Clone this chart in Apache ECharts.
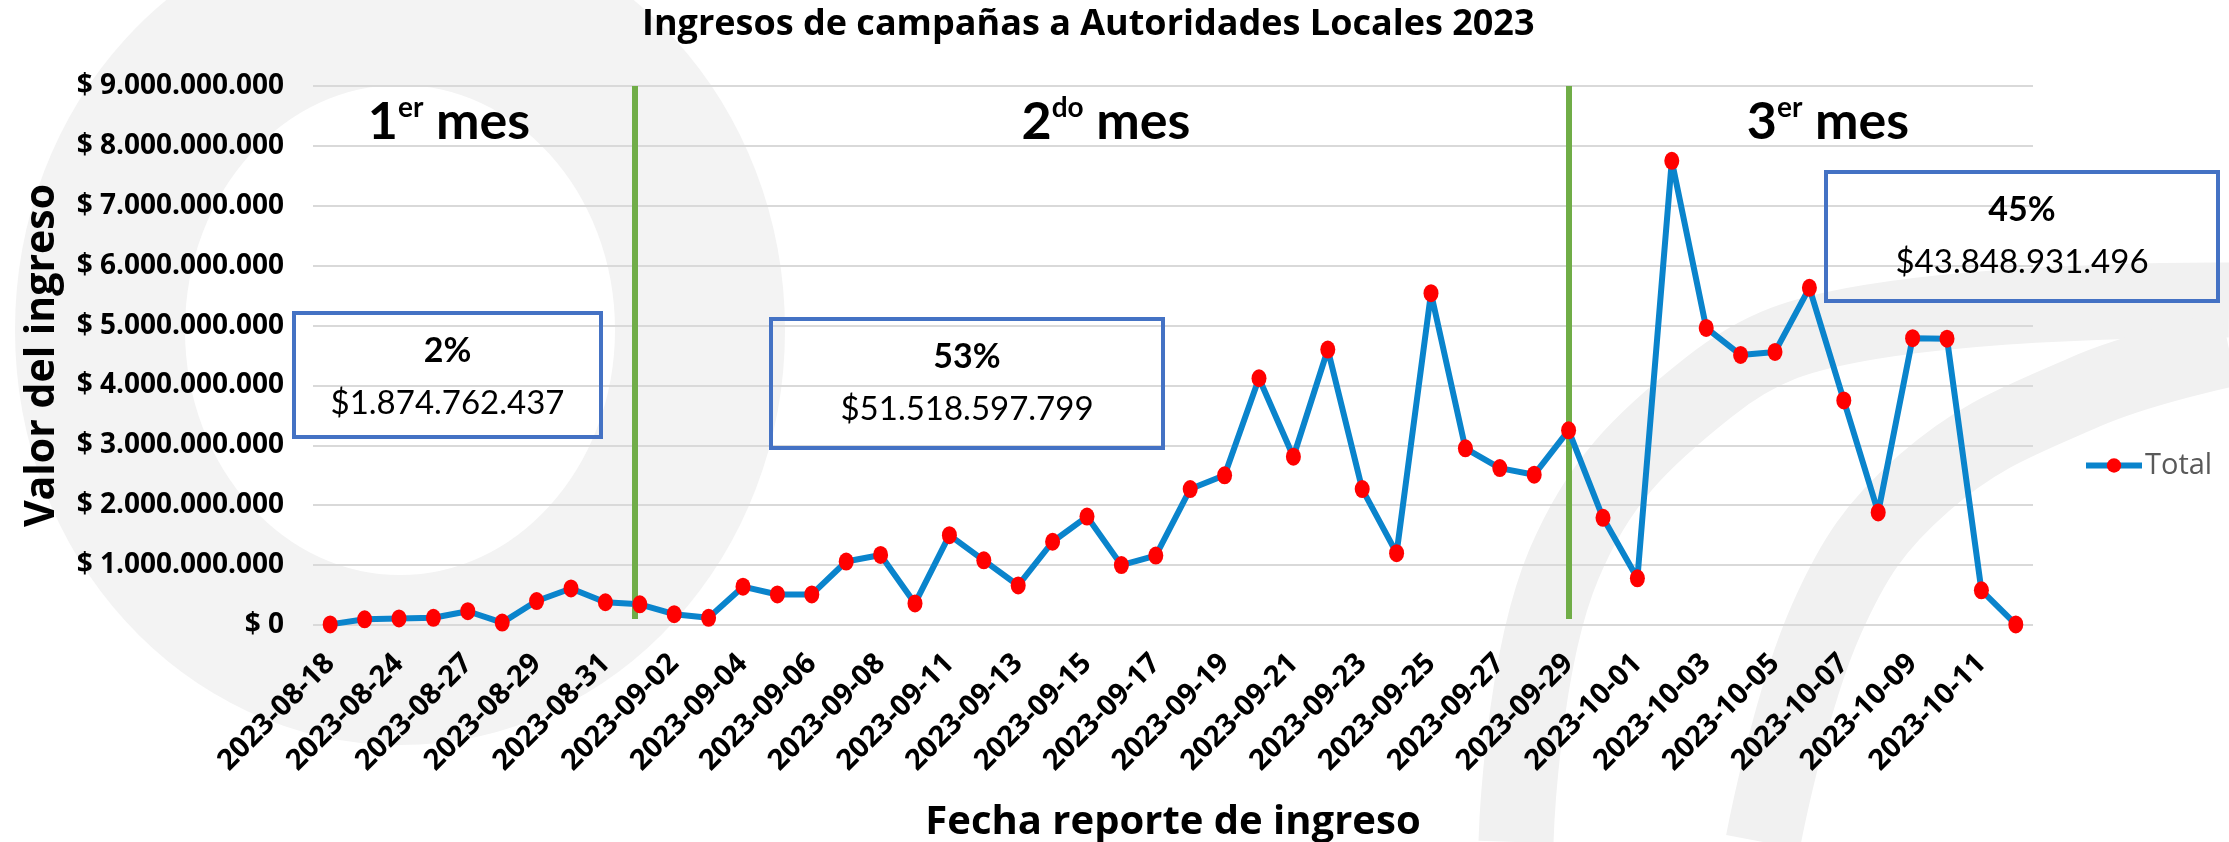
<!DOCTYPE html>
<html>
<head>
<meta charset="utf-8">
<script src="https://cdn.jsdelivr.net/npm/echarts@6/dist/echarts.min.js"></script>
<style>
  html, body { margin: 0; padding: 0; background: #fff; }
  #chart { width: 2229px; height: 842px; }
</style>
</head>
<body>
<div id="chart"></div>
<script>
// fechas de reporte (solo se muestran una de cada dos)
var fechas = [
  '2023-08-18', '2023-08-22', '2023-08-24', '2023-08-25', '2023-08-27', '2023-08-28', '2023-08-29', '2023-08-30', '2023-08-31', '2023-09-01',
  '2023-09-02', '2023-09-03', '2023-09-04', '2023-09-05', '2023-09-06', '2023-09-07', '2023-09-08', '2023-09-10', '2023-09-11', '2023-09-12',
  '2023-09-13', '2023-09-14', '2023-09-15', '2023-09-16', '2023-09-17', '2023-09-18', '2023-09-19', '2023-09-20', '2023-09-21', '2023-09-22',
  '2023-09-23', '2023-09-24', '2023-09-25', '2023-09-26', '2023-09-27', '2023-09-28', '2023-09-29', '2023-09-30', '2023-10-01', '2023-10-02',
  '2023-10-03', '2023-10-04', '2023-10-05', '2023-10-06', '2023-10-07', '2023-10-08', '2023-10-09', '2023-10-10', '2023-10-11', '2023-10-12'
];

// valor del ingreso, en millones de pesos
var totalMillones = [
  10, 95, 110, 120, 230, 40, 400, 610, 380, 345,
  180, 120, 640, 510, 510, 1060, 1170, 360, 1500, 1080,
  660, 1390, 1810, 1000, 1160, 2270, 2500, 4120, 2810, 4600,
  2270, 1200, 5540, 2950, 2620, 2510, 3250, 1790, 780, 7750,
  4960, 4510, 4560, 5630, 3750, 1880, 4790, 4780, 580, 10
];

// cortes entre meses (posicion sobre el eje de categorias)
var cortesMes = [8.86, 36];

var meses = [
  { n: '1', sup: 'er', x: 449 },
  { n: '2', sup: 'do', x: 1106 },
  { n: '3', sup: 'er', x: 1828 }
];

var resumenPct = ['2%', '53%', '45%'];
var resumenValor = ['$1.874.762.437', '$51.518.597.799', '$43.848.931.496'];

function pesos(v) {
  var s = String(Math.round(v)).replace(/\B(?=(\d{3})+(?!\d))/g, '.');
  return '$ ' + s;
}

var chart = echarts.init(document.getElementById('chart'));

var cajas = [
  { x: 294, y: 313, w: 307, h: 124 },
  { x: 771, y: 319, w: 392, h: 129 },
  { x: 1826, y: 172, w: 392, h: 129 }
];

var graficos = [];

// fondo: trazos grises suaves de la plantilla
graficos.push({
  type: 'ellipse',
  shape: { cx: 400, cy: 330, rx: 300, ry: 330 },
  style: { fill: 'none', stroke: '#f3f3f3', lineWidth: 170 },
  silent: true, z: -10
});
graficos.push({
  type: 'polyline',
  shape: { points: [[1516, 842], [1564, 564], [1709, 387], [1870, 322], [2229, 300]], smooth: 0.4 },
  style: { fill: 'none', stroke: '#f1f1f1', lineWidth: 75 },
  silent: true, z: -10
});
graficos.push({
  type: 'polyline',
  shape: { points: [[1763, 842], [1827, 618], [1924, 483], [2085, 392], [2229, 349]], smooth: 0.4 },
  style: { fill: 'none', stroke: '#f1f1f1', lineWidth: 75 },
  silent: true, z: -10
});

cajas.forEach(function (c, i) {
  graficos.push({
    type: 'rect',
    shape: { x: c.x, y: c.y, width: c.w, height: c.h },
    style: { fill: 'transparent', stroke: '#4472C4', lineWidth: 4 },
    z: 10
  });
  graficos.push({
    type: 'text',
    x: c.x + c.w / 2, y: c.y + 38,
    style: {
      text: resumenPct[i], fill: '#000',
      font: 'bold 34px Lato', align: 'center', verticalAlign: 'middle'
    },
    z: 10
  });
  graficos.push({
    type: 'text',
    x: c.x + c.w / 2, y: c.y + 90,
    style: {
      text: resumenValor[i], fill: '#000',
      font: '33px Lato', align: 'center', verticalAlign: 'middle'
    },
    z: 10
  });
});

meses.forEach(function (m) {
  graficos.push({
    type: 'text',
    x: m.x, y: 122,
    style: {
      text: '{a|' + m.n + '}{b|' + m.sup + '}{a| mes}',
      align: 'center', verticalAlign: 'middle',
      rich: {
        a: { font: 'bold 52px Lato', fill: '#000', lineHeight: 56 },
        b: { font: 'bold 28px Lato', fill: '#000', lineHeight: 56, verticalAlign: 'top' }
      }
    },
    z: 10
  });
});

var option = {
  backgroundColor: '#ffffff',
  animation: false,
  title: {
    text: 'Ingresos de campañas a Autoridades Locales 2023',
    left: 637,
    top: 2,
    textStyle: {
      fontFamily: 'Open Sans',
      fontWeight: 'bold',
      fontSize: 36,
      color: '#000'
    }
  },
  legend: {
    orient: 'vertical',
    left: 2078,
    top: 446,
    itemWidth: 56,
    itemHeight: 18,
    itemGap: 4,
    data: ['Total'],
    lineStyle: { width: 6 },
    textStyle: {
      fontFamily: 'Open Sans',
      fontSize: 29,
      color: '#595959',
      padding: [0, 0, 0, -2]
    }
  },
  grid: {
    left: 313,
    right: 196,
    top: 86,
    bottom: 217,
    containLabel: false,
    outerBoundsMode: 'none'
  },
  xAxis: [{
    type: 'category',
    data: fechas,
    boundaryGap: true,
    name: 'Fecha reporte de ingreso',
    nameLocation: 'middle',
    nameGap: 178,
    nameTextStyle: {
      fontFamily: 'Open Sans',
      fontWeight: 'bold',
      fontSize: 40,
      color: '#000'
    },
    axisLine: { show: false },
    axisTick: { show: false },
    axisLabel: {
      interval: 1,
      rotate: 45,
      margin: 34,
      fontFamily: 'Open Sans',
      fontWeight: 'bold',
      fontSize: 29,
      color: '#000'
    },
    splitLine: { show: false }
  }, {
    type: 'value',
    min: -0.5,
    max: 49.5,
    show: false
  }],
  yAxis: {
    type: 'value',
    min: 0,
    max: 9000000000,
    interval: 1000000000,
    name: 'Valor del ingreso',
    nameLocation: 'middle',
    nameGap: 250,
    nameTextStyle: {
      fontFamily: 'Open Sans',
      fontWeight: 'bold',
      fontSize: 41,
      color: '#000'
    },
    axisLine: { show: false },
    axisTick: { show: false },
    axisLabel: {
      margin: 29,
      formatter: pesos,
      fontFamily: 'Open Sans',
      fontWeight: 'bold',
      fontSize: 28,
      color: '#000'
    },
    splitLine: { lineStyle: { color: '#d9d9d9', width: 2 } }
  },
  series: [{
    name: 'Total',
    type: 'line',
    data: totalMillones.map(function (v) { return v * 1e6; }),
    symbol: 'circle',
    symbolSize: [15, 18],
    lineStyle: { color: '#0A84CC', width: 6 },
    itemStyle: { color: '#FF0000' },
    z: 5
  }, {
    name: 'cortes',
    type: 'line',
    xAxisIndex: 1,
    data: cortesMes.map(function (c) { return [c, 0]; }),
    showSymbol: false,
    silent: true,
    lineStyle: { opacity: 0 },
    markLine: {
      silent: true,
      symbol: 'none',
      label: { show: false },
      lineStyle: { color: '#70AD47', width: 6, type: 'solid' },
      data: cortesMes.map(function (c) {
        return [{ coord: [c, 0.1e9] }, { coord: [c, 9e9] }];
      })
    },
    z: 3
  }],
  graphic: graficos
};

chart.setOption(option);
</script>
</body>
</html>
